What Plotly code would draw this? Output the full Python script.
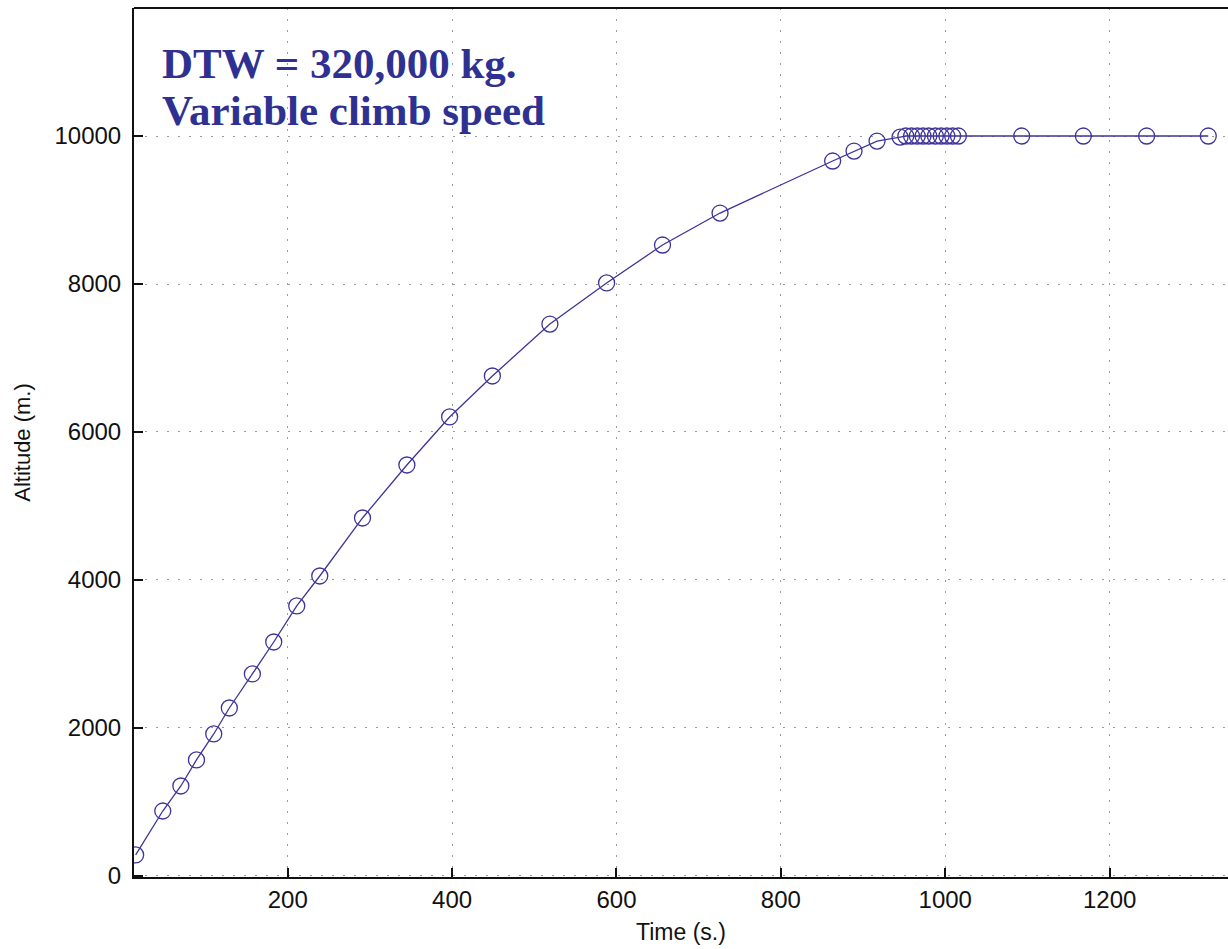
import plotly.graph_objects as go

time_s = [15, 48, 70, 89, 110, 129, 157, 183, 211, 239, 291, 345, 397, 449, 519, 588,
          656, 726, 863, 889, 917,
          945, 952, 959, 966, 973, 980, 988, 995, 1002, 1009, 1016,
          1093, 1168, 1245, 1320]
altitude_m = [284, 878, 1216, 1568, 1919, 2270, 2730, 3162, 3649, 4054, 4838, 5554, 6203, 6757,
              7459, 8014, 8527, 8959, 9662, 9797, 9932,
              9985, 10000, 10000, 10000, 10000, 10000, 10000, 10000, 10000, 10000, 10000,
              10000, 10000, 10000, 10000]

x_ticks = [200, 400, 600, 800, 1000, 1200]
y_ticks = [0, 2000, 4000, 6000, 8000, 10000]

line_color = "#3d3499"
text_color = "#2e3192"

fig = go.Figure()
fig.add_trace(go.Scatter(
    x=time_s, y=altitude_m, mode="lines+markers",
    line=dict(color=line_color, width=1.3),
    marker=dict(symbol="circle-open", size=16, color=line_color, line=dict(width=1.3)),
    showlegend=False,
))

sans = "Liberation Sans, Arial, sans-serif"
axis_font = dict(family=sans, size=24, color="#111")
grid_common = dict(showgrid=True, gridcolor="#9a9a9a", gridwidth=1, griddash="2px,9px",
                   zeroline=False, showline=True, linecolor="#111", linewidth=2,
                   ticks="inside", ticklen=9, tickwidth=1.5, tickcolor="#111",
                   tickfont=axis_font)

fig.update_layout(
    width=1228, height=949,
    margin=dict(l=134, r=0, t=8, b=72),
    paper_bgcolor="white", plot_bgcolor="white",
    xaxis=dict(range=[13, 1344], tickvals=x_ticks, ticktext=[str(v) for v in x_ticks],
               title=dict(text="Time (s.)", font=dict(family=sans, size=23, color="#111"), standoff=12),
               **grid_common),
    yaxis=dict(range=[-14, 11730], tickvals=y_ticks, ticktext=[str(v) for v in y_ticks],
               ticklabelstandoff=6,
               title=dict(text="Altitude (m.)", font=dict(family=sans, size=22, color="#111"), standoff=18),
               **grid_common),
    xaxis2=dict(range=[13, 1344], overlaying="x", side="top", showline=False,
                ticks="inside", ticklen=9, tickwidth=1.5, tickcolor="#111",
                tickvals=x_ticks, showticklabels=False, showgrid=False, zeroline=False),
)

# top frame line
fig.add_shape(type="line", xref="paper", yref="paper", x0=0, x1=1.02, y0=1, y1=1,
              line=dict(color="#111", width=2))

fig.add_annotation(xref="paper", yref="paper", x=(160 - 134) / 1094, y=(877 - 63) / 869,
                   xanchor="left", yanchor="middle", showarrow=False,
                   text="<b>DTW = 320,000 kg.</b>",
                   font=dict(family="Liberation Serif, Times New Roman, serif", size=43, color=text_color))
fig.add_annotation(xref="paper", yref="paper", x=(160 - 134) / 1094, y=(877 - 110) / 869,
                   xanchor="left", yanchor="middle", showarrow=False,
                   text="<b>Variable climb speed</b>",
                   font=dict(family="Liberation Serif, Times New Roman, serif", size=43, color=text_color))

fig.write_html("out.html")
